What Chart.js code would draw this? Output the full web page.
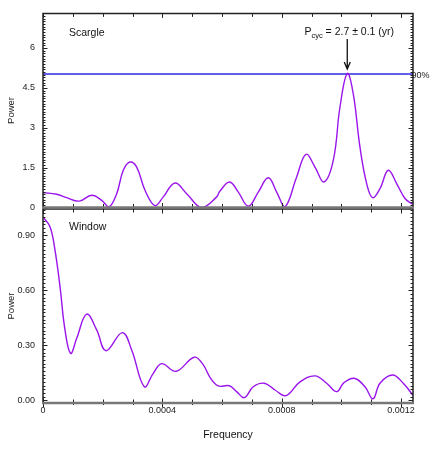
<!DOCTYPE html>
<html><head><meta charset="utf-8">
<script src="https://cdn.jsdelivr.net/npm/chart.js@4/dist/chart.umd.min.js"></script>
<style>
html,body{margin:0;padding:0;background:#fff;}
#wrap{position:relative;width:436px;height:460px;}
.layer{position:absolute;left:0;top:0;width:436px;height:460px;}
</style></head><body>
<div id="wrap">
<div class="layer"><canvas id="win" width="436" height="460"></canvas></div>
<div class="layer"><canvas id="scargle" width="436" height="460"></canvas></div>
</div>
<script>
// ---------- data ----------
const scargleFreq = [0, 0.0000459, 0.0000794, 0.0001216, 0.0001632, 0.0001967, 0.0002212, 0.0002470, 0.0002691, 0.0002915, 0.0003140, 0.0003418, 0.0003753, 0.0004031, 0.0004423, 0.0004815, 0.0005318, 0.0005821, 0.0005931, 0.0006255, 0.0006545, 0.0006880, 0.0007215, 0.0007550, 0.0007831, 0.0008109, 0.0008501, 0.0008813, 0.0009115, 0.0009416, 0.0009728, 0.0009952, 0.0010197, 0.0010398, 0.0010623, 0.0010847, 0.0011048, 0.0011293, 0.0011571, 0.0011852, 0.0012131, 0.0012389];
const scarglePower = [0.56, 0.50, 0.37, 0.24, 0.46, 0.27, 0.02, 0.52, 1.40, 1.71, 1.52, 0.65, 0.07, 0.40, 0.92, 0.52, 0.00, 0.40, 0.62, 0.96, 0.58, 0.05, 0.58, 1.12, 0.58, 0.02, 1.15, 2.00, 1.52, 0.96, 1.77, 3.77, 5.04, 4.27, 2.27, 0.90, 0.37, 0.71, 1.40, 0.90, 0.34, 0.12];
const windowFreq = [0, 0.0000235, 0.0000402, 0.0000570, 0.0000737, 0.0000928, 0.0001129, 0.0001464, 0.0001799, 0.0002111, 0.0002657, 0.0002972, 0.0003395, 0.0003696, 0.0003978, 0.0004457, 0.0005070, 0.0005372, 0.0005596, 0.0005874, 0.0006243, 0.0006491, 0.0006746, 0.0007047, 0.0007416, 0.0007774, 0.0008143, 0.0008612, 0.0009115, 0.0009507, 0.0009842, 0.0010087, 0.0010432, 0.0010790, 0.0011059, 0.0011293, 0.0011718, 0.0012074, 0.0012389];
const windowPower = [1.00, 0.947, 0.82, 0.62, 0.384, 0.256, 0.338, 0.47, 0.384, 0.27, 0.369, 0.274, 0.074, 0.147, 0.20, 0.158, 0.235, 0.193, 0.125, 0.078, 0.079, 0.047, 0.014, 0.074, 0.093, 0.056, 0.025, 0.10, 0.133, 0.093, 0.047, 0.096, 0.12, 0.074, 0.008, 0.093, 0.138, 0.093, 0.029];
const significance90 = 5.02;
const significanceLabel = '90%';
const peakFreq = 0.0010197;
const xTickValues = [0, 0.0004, 0.0008, 0.0012];
const xTickLabels = ['0', '0.0004', '0.0008', '0.0012'];
const scargleTickValues = [0, 1.5, 3, 4.5, 6];
const scargleTickLabels = ['0', '1.5', '3', '4.5', '6'];
const windowTickValues = [0, 0.3, 0.6, 0.9];
const windowTickLabels = ['0.00', '0.30', '0.60', '0.90'];
const xAxisTitle = 'Frequency';
const yAxisTitle = 'Power';
const topPanelName = 'Scargle';
const bottomPanelName = 'Window';

// ---------- styles ----------
const FONT = "'Liberation Sans', Arial, Helvetica, sans-serif";
const PURPLE = '#9a14ec';
const BLUE = '#2b2be4';
const XMIN = 0, XMAX = 0.00124;

function framePlugin(cfg) {
  return {
    id: 'frame_' + cfg.name,
    afterDraw(chart) {
      const ctx = chart.ctx, a = chart.chartArea;
      const xs = chart.scales.x, ys = chart.scales.y;
      ctx.save();
      ctx.strokeStyle = '#222';
      ctx.lineWidth = 1;
      ctx.beginPath();
      const k0 = Math.ceil(ys.min / cfg.yMinor - 1e-9), k1 = Math.floor(ys.max / cfg.yMinor + 1e-9);
      for (let k = k0; k <= k1; k++) {
        const v = k * cfg.yMinor;
        const major = cfg.yMajor.some(m => Math.abs(m - v) < cfg.yMinor / 10);
        const len = major ? 4.5 : 2.5;
        const py = Math.round(ys.getPixelForValue(v)) + 0.5;
        ctx.moveTo(a.left, py); ctx.lineTo(a.left + len, py);
        ctx.moveTo(a.right, py); ctx.lineTo(a.right - len, py);
      }
      const xMinor = 0.0001;
      const n = Math.floor(xs.max / xMinor + 1e-9);
      for (let k = 0; k <= n; k++) {
        const major = k % 4 === 0;
        const px = Math.round(xs.getPixelForValue(k * xMinor)) + 0.5;
        ctx.moveTo(px, a.bottom - (major ? 4.5 : 3.5)); ctx.lineTo(px, a.bottom + (major ? 4 : 2));
        ctx.moveTo(px, a.top); ctx.lineTo(px, a.top + (major ? 4.5 : 3.5));
      }
      ctx.stroke();
      ctx.lineWidth = 1.5;
      ctx.strokeStyle = '#222';
      ctx.beginPath();
      ctx.moveTo(a.left, a.bottom); ctx.lineTo(a.left, a.top); ctx.lineTo(a.right, a.top); ctx.lineTo(a.right, a.bottom);
      ctx.stroke();
      ctx.lineWidth = 2.5;
      ctx.strokeStyle = '#777';
      ctx.beginPath();
      ctx.moveTo(a.left - 1, a.bottom); ctx.lineTo(a.right + 1, a.bottom);
      ctx.stroke();
      // panel name
      ctx.fillStyle = '#111';
      ctx.font = '10.5px ' + FONT;
      ctx.textAlign = 'left';
      ctx.textBaseline = 'middle';
      ctx.fillText(cfg.name, a.left + 26, a.top + cfg.nameDy);
      if (cfg.after) cfg.after(chart, ctx, a, xs, ys);
      ctx.restore();
    }
  };
}

function scaleY(min, max, tickValues, tickLabels) {
  return {
    min: min, max: max,
    afterBuildTicks: s => { s.ticks = tickValues.map(v => ({ value: v })); },
    afterFit: s => { s.width = 43; },
    ticks: { callback: (v, i) => tickLabels[i], padding: 8, color: '#222', font: { family: FONT, size: 9 } },
    grid: { display: false, drawTicks: false },
    border: { display: false },
    title: { display: true, text: yAxisTitle, color: '#222', font: { family: FONT, size: 9.5 }, padding: { top: 6, bottom: 0 } }
  };
}

// ---------- bottom panel: window ----------
new Chart(document.getElementById('win'), {
  type: 'line',
  data: { datasets: [{
    data: windowFreq.map((f, i) => ({ x: f, y: windowPower[i] })),
    borderColor: PURPLE, borderWidth: 1.4, pointRadius: 0, fill: false, tension: 0.4
  }] },
  options: {
    responsive: false, animation: false, events: [],
    plugins: { legend: { display: false }, tooltip: { enabled: false } },
    layout: { padding: { left: 0, right: 23, top: 209, bottom: 0 } },
    scales: {
      x: {
        type: 'linear', min: XMIN, max: XMAX,
        afterBuildTicks: s => { s.ticks = xTickValues.map(v => ({ value: v })); },
        afterFit: s => { s.height = 57; },
        ticks: { callback: (v, i) => xTickLabels[i], padding: 2, maxRotation: 0, color: '#222', font: { family: FONT, size: 9 } },
        grid: { display: false, drawTicks: false },
        border: { display: false },
        title: { display: true, text: xAxisTitle, color: '#111', font: { family: FONT, size: 10.5 }, padding: { top: 0, bottom: 18.7 } }
      },
      y: scaleY(-0.015, 1.044, windowTickValues, windowTickLabels)
    }
  },
  plugins: [framePlugin({ name: bottomPanelName, yMinor: 0.02, yMajor: windowTickValues, nameDy: 18 })]
});

// ---------- top panel: scargle ----------
function annotate(chart, ctx, a, xs, ys) {
  const px = xs.getPixelForValue(peakFreq);
  const py = ys.getPixelForValue(significance90);
  // arrow
  ctx.strokeStyle = '#111';
  ctx.lineWidth = 1.3;
  ctx.beginPath();
  ctx.moveTo(px, 39); ctx.lineTo(px, py - 5);
  ctx.moveTo(px - 3, py - 12); ctx.lineTo(px, py - 5); ctx.lineTo(px + 3, py - 12);
  ctx.stroke();
  // label P_cyc
  const big = '10.5px ' + FONT, small = '7.5px ' + FONT;
  const parts = [['P', big, 0], ['cyc', small, 2.5], [' = 2.7 \u00b1 0.1 (yr)', big, 0]];
  let w = 0;
  parts.forEach(p => { ctx.font = p[1]; w += ctx.measureText(p[0]).width; });
  let x = px + 2 - w / 2;
  ctx.fillStyle = '#111';
  ctx.textAlign = 'left';
  ctx.textBaseline = 'alphabetic';
  parts.forEach(p => { ctx.font = p[1]; ctx.fillText(p[0], x, 35 + p[2]); x += ctx.measureText(p[0]).width; });
  // 90% label
  ctx.font = '9px ' + FONT;
  ctx.textBaseline = 'middle';
  ctx.fillStyle = '#222';
  ctx.fillText(significanceLabel, a.right - 1.5, py + 1);
}

new Chart(document.getElementById('scargle'), {
  type: 'line',
  data: { datasets: [
    {
      data: scargleFreq.map((f, i) => ({ x: f, y: scarglePower[i] })),
      borderColor: PURPLE, borderWidth: 1.4, pointRadius: 0, fill: false, tension: 0.4
    },
    {
      data: [{ x: XMIN, y: significance90 }, { x: XMAX, y: significance90 }],
      borderColor: BLUE, borderWidth: 1.3, pointRadius: 0, fill: false
    }
  ] },
  options: {
    responsive: false, animation: false, events: [],
    plugins: { legend: { display: false }, tooltip: { enabled: false } },
    layout: { padding: { left: 0, right: 23, top: 12, bottom: 252.5 } },
    scales: {
      x: { type: 'linear', min: XMIN, max: XMAX, display: false },
      y: scaleY(0, 7.3, scargleTickValues, scargleTickLabels)
    }
  },
  plugins: [framePlugin({ name: topPanelName, yMinor: 0.1, yMajor: scargleTickValues, nameDy: 20, after: annotate })]
});
</script>
</body></html>
